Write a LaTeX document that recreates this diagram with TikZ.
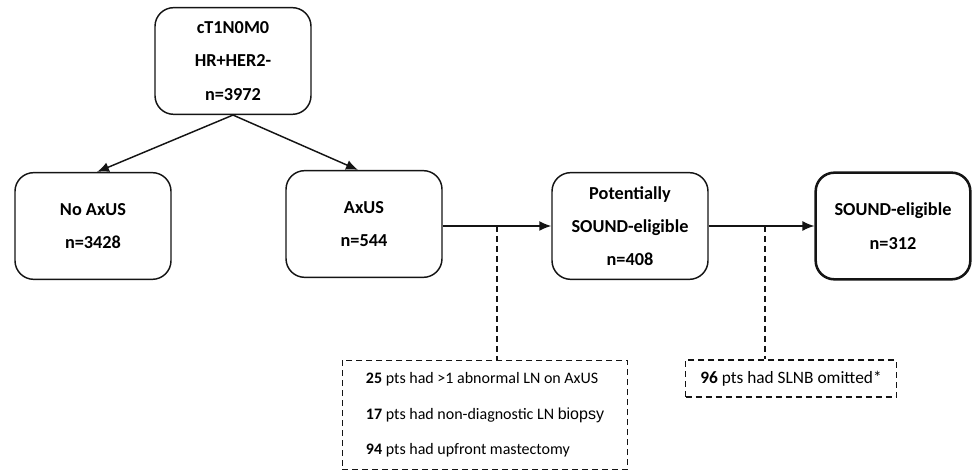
\documentclass[tikz,border=0pt]{standalone}
\usepackage{fontspec}
\setmainfont{Carlito}
\newfontfamily\arialfont{Liberation Sans}
\usetikzlibrary{arrows.meta,calc}
\definecolor{LineClr}{RGB}{20,20,20}

\begin{document}
\begin{tikzpicture}[x=0.75pt,y=-0.75pt,
  box/.style={draw=LineClr,line width=1.1pt,rounded corners=14pt,minimum width=117pt,
    minimum height=80pt,align=center,font=\fontsize{13.7}{25}\selectfont\bfseries},
  note/.style={draw=LineClr,line width=1.1pt,dash pattern=on 4.5pt off 3pt,align=left,
    font=\fontsize{12}{26.5}\selectfont,inner xsep=8pt},
  flow/.style={LineClr,line width=1.1pt,-{Latex[length=9pt,width=7.5pt]}},
  link/.style={LineClr,line width=1.1pt,dash pattern=on 4.5pt off 3pt}]
\useasboundingbox (0,0) rectangle (973,473);

\node[box] (top) at (233,61) {cT1N0M0\\HR+HER2-\\n=3972};
\node[box] (noaxus) at (93,226) {No AxUS\\n=3428};
\node[box] (axus) at (364,224) {AxUS\\n=544};
\node[box] (pot) at (630,226) {Potentially\\SOUND-eligible\\n=408};
\node[box,line width=1.9pt,minimum width=116pt] (sound) at (893,226) {SOUND-eligible\\n=312};

\node[note,minimum width=214pt,minimum height=82pt] (excl) at (485,415)
  {\textbf{25} pts had >1 abnormal LN on AxUS\\
   \textbf{17} pts had non-diagnostic LN {\arialfont biopsy}\\
   \textbf{94} pts had upfront mastectomy};
\node[note,minimum width=158pt,minimum height=28pt,font=\fontsize{13}{16}\selectfont]
  (omit) at (791,378.5) {\textbf{96} pts had SLNB omitted*};

\coordinate (c1) at (497,226);
\coordinate (c2) at (765,226);

\draw[flow] (top.south) -- ($(noaxus.north)+(4,0)$);
\draw[flow] (top.south) -- ($(axus.north)+(-6,0)$);
\draw[flow] (axus.east |- pot.west) -- (pot.west);
\draw[flow] (pot.east) -- (sound.west);
\draw[link] (c1) -- (excl.north -| c1);
\draw[link] (c2) -- (omit.north -| c2);

\end{tikzpicture}
\end{document}
